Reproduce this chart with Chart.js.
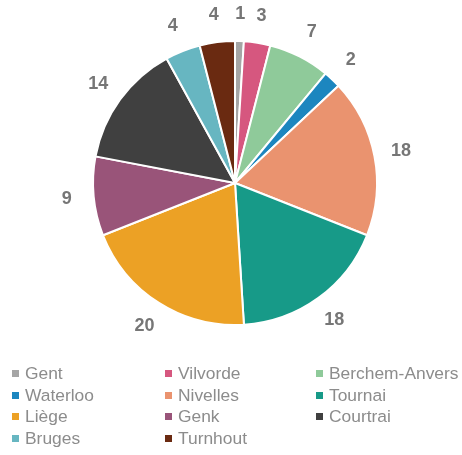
<!DOCTYPE html>
<html lang="fr">
<head>
<meta charset="UTF-8">
<title>Camembert</title>
<script src="https://cdn.jsdelivr.net/npm/chart.js"></script>
<style>
    body { margin: 0; background: #fff; }
    .box { position: relative; width: 462px; height: 455px; }
    .box canvas { position: absolute; left: 0; top: 0; }
    .legende {
        position: absolute; left: 12px; top: 363px;
        display: grid; grid-template-columns: 153px 151px 150px;
        font-family: "Liberation Sans", Arial, sans-serif; font-size: 17.4px; color: #8c8c8c;
    }
    .legende div { height: 21.6px; line-height: 21.6px; white-space: nowrap; }
    .legende span { display: inline-block; width: 7px; height: 7px; margin-right: 6px; vertical-align: 2px; }
</style>
</head>
<body>

<div class="box">
    <canvas id="camembert" width="462" height="455"></canvas>
    <div class="legende" id="legende"></div>
</div>

<script>
    // donnees
    const villes = ['Gent', 'Vilvorde', 'Berchem-Anvers', 'Waterloo', 'Nivelles', 'Tournai',
                    'Liège', 'Genk', 'Courtrai', 'Bruges', 'Turnhout'];
    const valeurs = [1, 3, 7, 2, 18, 18, 20, 9, 14, 4, 4];
    const couleurs = ['#a5a5a5', '#d6577f', '#8fca9a', '#1c86bf', '#ea936f', '#179a88',
                      '#eca125', '#995479', '#404040', '#67b6c1', '#6a2a11'];

    // legende en html (3 colonnes)
    let html = '';
    for (let i = 0; i < villes.length; i++) {
        html += `<div><span style="background:${couleurs[i]}"></span>${villes[i]}</div>`;
    }
    document.getElementById('legende').innerHTML = html;

    // etiquettes des valeurs autour du camembert
    const etiquettes = {
        id: 'etiquettes',
        afterDatasetsDraw(chart) {
            const ctx = chart.ctx;
            const arcs = chart.getDatasetMeta(0).data;
            ctx.save();
            ctx.font = 'bold 18px "Liberation Sans", Arial, sans-serif';
            ctx.fillStyle = '#767676';
            ctx.textAlign = 'center';
            ctx.textBaseline = 'middle';
            arcs.forEach((arc, i) => {
                const p = arc.getProps(['x', 'y', 'startAngle', 'endAngle', 'outerRadius'], true);
                const a = (p.startAngle + p.endAngle) / 2;
                const r = p.outerRadius + 27;
                ctx.fillText(valeurs[i], p.x + Math.cos(a) * r, p.y + Math.sin(a) * r);
            });
            ctx.restore();
        }
    };

    new Chart(document.getElementById('camembert'), {
        type: 'pie',
        data: {
            labels: villes,
            datasets: [{
                data: valeurs,
                backgroundColor: couleurs,
                borderColor: '#ffffff',
                borderWidth: 2
            }]
        },
        options: {
            responsive: false,
            animation: false,
            layout: { padding: { top: 40, bottom: 129, left: 49, right: 41 } },
            plugins: {
                legend: { display: false },
                tooltip: { enabled: false }
            }
        },
        plugins: [etiquettes]
    });
</script>

</body>
</html>
